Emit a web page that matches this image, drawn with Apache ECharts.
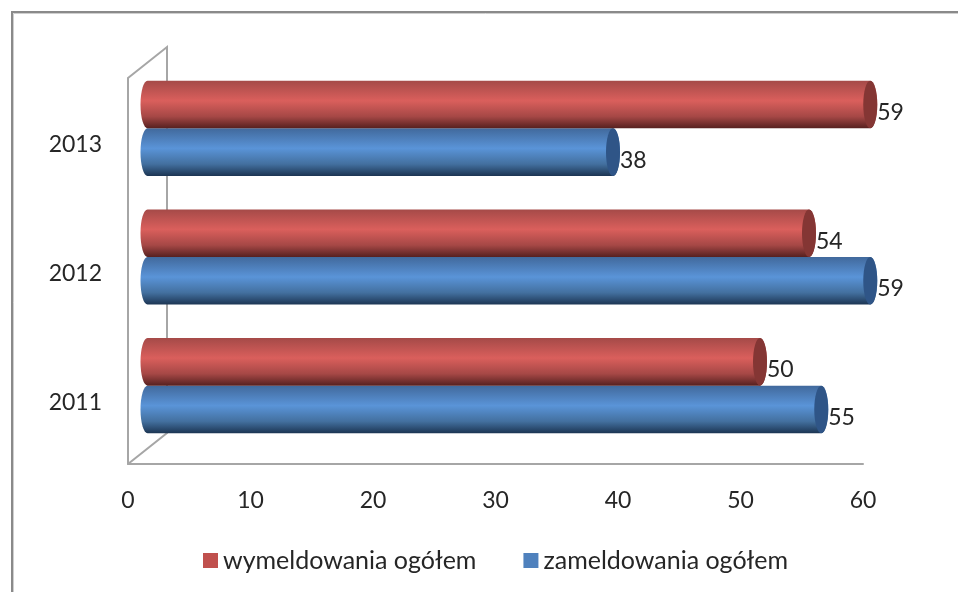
<!DOCTYPE html>
<html>
<head>
<meta charset="utf-8">
<style>
  html, body { margin: 0; padding: 0; background: #fff; }
  #myChart { width: 958px; height: 592px; }
</style>
<script src="https://cdn.jsdelivr.net/npm/echarts@6/dist/echarts.min.js"></script>
</head>
<body>
<div id="myChart"></div>
<script>
  var years = ['2011', '2012', '2013'];
  var wymeldowania = [50, 54, 59];
  var zameldowania = [55, 59, 38];
  var xTicks = { min: 0, max: 60, interval: 10 };

  var fontName = 'Lato, "Open Sans", sans-serif';
  var textColor = '#262626';
  var wallColor = '#a6a6a6';
  // przesuniecie tylnej sciany wykresu 3D
  var depthX = 39, depthY = -31;

  function gradient(stops) {
    return new echarts.graphic.LinearGradient(0, 0, 0, 1, stops);
  }

  var redStyle = {
    fill: gradient([
      { offset: 0, color: '#a54a48' },
      { offset: 0.42, color: '#da5f5c' },
      { offset: 0.75, color: '#a64846' },
      { offset: 1, color: '#56201f' }
    ]),
    cap: '#843634'
  };
  var blueStyle = {
    fill: gradient([
      { offset: 0, color: '#41699c' },
      { offset: 0.42, color: '#5a94d8' },
      { offset: 0.75, color: '#43709f' },
      { offset: 1, color: '#1c3553' }
    ]),
    cap: '#2f5587'
  };

  // walec: side = -1 gorny w pasmie, +1 dolny
  function cylinder(look, side) {
    return function (params, api) {
      var start = api.coord([0, api.value(1)]);
      var end = api.coord([api.value(0), api.value(1)]);
      var band = api.size([0, 1])[1];
      var h = band * 0.37;
      var rx = 7;
      var ry = h / 2;
      var cy = start[1] + depthY / 2 + 1.5 + side * (h / 2);
      var x0 = start[0] + depthX / 2;
      var x1 = end[0] + depthX / 2;
      var path = 'M' + x0 + ' ' + (cy - ry) +
        'L' + x1 + ' ' + (cy - ry) +
        'A' + rx + ' ' + ry + ' 0 0 1 ' + x1 + ' ' + (cy + ry) +
        'L' + x0 + ' ' + (cy + ry) +
        'A' + rx + ' ' + ry + ' 0 0 1 ' + x0 + ' ' + (cy - ry) + 'Z';
      return {
        type: 'group',
        children: [
          {
            type: 'path',
            shape: { pathData: path },
            style: { fill: look.fill }
          },
          {
            type: 'ellipse',
            shape: { cx: x1, cy: cy, rx: rx, ry: ry },
            style: { fill: look.cap }
          },
          {
            type: 'text',
            style: {
              x: x1 + rx,
              y: cy + 8,
              text: String(api.value(0)),
              font: '23px ' + fontName,
              fill: textColor,
              align: 'left',
              verticalAlign: 'middle'
            }
          }
        ]
      };
    };
  }

  function pairs(values) {
    return values.map(function (v, i) { return [v, i]; });
  }

  // tylna sciana: linie od osi do glebi
  function renderWall(params, api) {
    var cs = params.coordSys;
    var left = cs.x, top = cs.y, bottom = cs.y + cs.height;
    return {
      type: 'polyline',
      shape: {
        points: [
          [left, top],
          [left + depthX, top + depthY],
          [left + depthX, bottom + depthY],
          [left, bottom]
        ]
      },
      style: { stroke: wallColor, lineWidth: 2, fill: 'none' },
      silent: true
    };
  }

  var myChart = echarts.init(document.getElementById('myChart'), null, { renderer: 'canvas' });

  myChart.setOption({
    animation: false,
    backgroundColor: '#fff',
    textStyle: { fontFamily: fontName },
    // ramka obrazka: tylko gora i lewa strona
    graphic: [
      {
        type: 'polyline',
        z: -10,
        shape: { points: [[13.5, 592], [13.5, 13.5], [958, 13.5]] },
        style: { stroke: '#cfcfcf', lineWidth: 1, fill: 'none' }
      },
      {
        type: 'polyline',
        z: -9,
        shape: { points: [[12, 592], [12, 12], [958, 12]] },
        style: { stroke: '#8a8a8a', lineWidth: 2, fill: 'none' }
      }
    ],
    legend: {
      left: 198,
      top: 543,
      itemWidth: 15,
      itemHeight: 15,
      itemGap: 47,
      icon: 'rect',
      data: ['wymeldowania ogółem', 'zameldowania ogółem'],
      textStyle: { color: textColor, fontSize: 25, fontFamily: fontName }
    },
    grid: { left: 128, right: 95, top: 78, bottom: 128 },
    xAxis: {
      type: 'value',
      min: xTicks.min,
      max: xTicks.max,
      interval: xTicks.interval,
      splitLine: { show: false },
      axisTick: { show: false },
      axisLine: { show: true, lineStyle: { color: wallColor, width: 2 } },
      axisLabel: { color: textColor, fontSize: 23, margin: 25, fontFamily: fontName }
    },
    yAxis: {
      type: 'category',
      data: years,
      axisTick: { show: false },
      axisLine: { show: true, lineStyle: { color: wallColor, width: 2 } },
      axisLabel: { color: textColor, fontSize: 23, margin: 26, fontFamily: fontName, verticalAlign: 'top', lineHeight: 5 }
    },
    series: [
      {
        type: 'custom',
        name: 'sciana',
        renderItem: renderWall,
        data: [[0, 0]],
        encode: { x: 0, y: 1 },
        silent: true,
        z: 1
      },
      {
        type: 'custom',
        name: 'zameldowania ogółem',
        renderItem: cylinder(blueStyle, 1),
        data: pairs(zameldowania),
        encode: { x: 0, y: 1 },
        itemStyle: { color: '#4f81bd' },
        z: 2
      },
      {
        type: 'custom',
        name: 'wymeldowania ogółem',
        renderItem: cylinder(redStyle, -1),
        data: pairs(wymeldowania),
        encode: { x: 0, y: 1 },
        itemStyle: { color: '#c0504d' },
        z: 3
      }
    ]
  });
</script>
</body>
</html>
